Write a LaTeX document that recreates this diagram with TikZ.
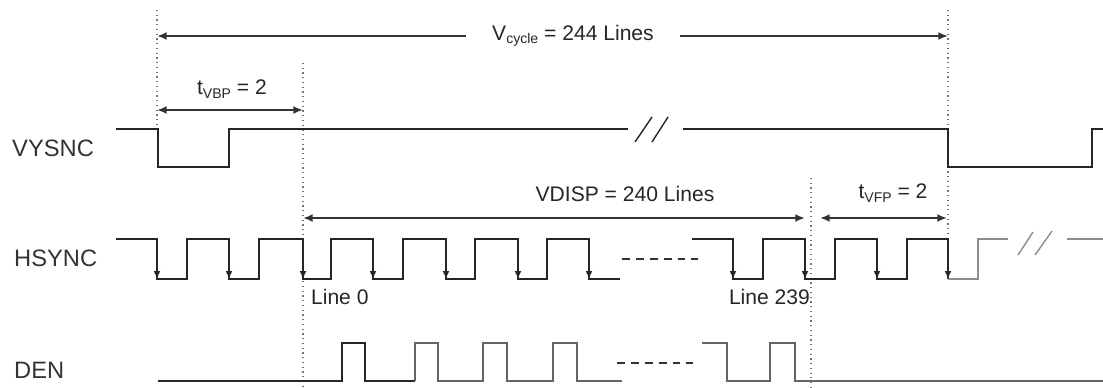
\documentclass[tikz,border=0pt]{standalone}
\usepackage{fontspec}
\setmainfont{Liberation Sans}
\usepackage{tikz}
\usetikzlibrary{arrows.meta,positioning,calc}

\begin{document}
\begin{tikzpicture}[
    x=0.02cm, y=-0.02cm,
    sig/.style={line width=1pt, black!85},
    sigg/.style={line width=1pt, black!45},
    guide/.style={dotted, black!55, line width=0.7pt},
    dim/.style={line width=1.1pt, black!80, >={Latex[length=5.5pt,width=4.5pt]}},
    fall/.style={-{Latex[length=4.5pt,width=4pt]}, line width=1pt, black!85},
    gap/.style={dash pattern=on 4.5pt off 3.4pt, line width=1pt, black!80},
    lbl/.style={font=\fontsize{13.5}{16}\selectfont, anchor=west, text=black!80},
    ann/.style={font=\fontsize{12}{14}\selectfont, text=black!85, inner sep=1pt}
]
    \useasboundingbox (0,0) rectangle (1103,387);

    % guide lines
    \coordinate (g1t) at (157,10);  \coordinate (g1b) at (157,128);
    \coordinate (g2t) at (303,63);  \coordinate (g2b) at (303,387);
    \coordinate (g3t) at (948,10);  \coordinate (g3b) at (948,239);
    \coordinate (g4t) at (811,178); \coordinate (g4b) at (811,387);
    \draw[guide] (g1t) -- (g1b);
    \draw[guide] (g2t) -- (g2b);
    \draw[guide] (g3t) -- (g3b);
    \draw[guide] (g4t) -- (g4b);

    % signal names
    \node[lbl] (vsyncl) at (6,148) {VYSNC};
    \node[lbl] (hsyncl) at (8,258) {HSYNC};
    \node[lbl] (denl) at (8,370) {DEN};

    % V cycle
    \node[ann, inner xsep=15pt] (vcyc) at (573,36)
        {V{\fontsize{8}{8}\selectfont\raisebox{-0.45ex}{cycle}} = 244 Lines};
    \coordinate (vcl) at (157,36);
    \coordinate (vcr) at (948,36);
    \draw[dim, <-] (vcl) -- (vcyc.west);
    \draw[dim, ->] (vcyc.east) -- (vcr);

    % back porch
    \coordinate (vbpl) at (157,110);
    \coordinate (vbpr) at (303,110);
    \draw[dim, <->] (vbpl) -- (vbpr);
    \node[ann] (vbp) at (232,89) {t{\fontsize{8}{8}\selectfont\raisebox{-0.45ex}{VBP}} = 2};

    % display lines
    \coordinate (vdl) at (303,218);
    \coordinate (vdr) at (805,218);
    \draw[dim, <->] (vdl) -- (vdr);
    \node[ann] (vdisp) at (625,194) {VDISP = 240 Lines};

    % front porch
    \coordinate (vfpl) at (820,218);
    \coordinate (vfpr) at (947,218);
    \draw[dim, <->] (vfpl) -- (vfpr);
    \node[ann] (vfp) at (893,193) {t{\fontsize{8}{8}\selectfont\raisebox{-0.45ex}{VFP}} = 2};

    % VSYNC
    \draw[sig] (116,129) -- (158,129) -- (158,167) -- (229,167) -- (229,129) -- (628,129);
    \draw[sig, line width=0.8pt] (635,142) -- (652,117) (652,142) -- (668,117);
    \draw[sig] (683,129) -- (948,129) -- (948,167) -- (1092,167) -- (1092,129) -- (1103,129);

    % HSYNC
    \draw[sig] (116,239) -- (157,239) -- (157,279) -- (187,279) -- (187,239) -- (229,239)
        -- (229,279) -- (259,279) -- (259,239) -- (303,239) -- (303,279) -- (331,279)
        -- (331,239) -- (373,239) -- (373,279) -- (403,279) -- (403,239) -- (446,239)
        -- (446,279) -- (475,279) -- (475,239) -- (518,239) -- (518,279) -- (547,279)
        -- (547,239) -- (589,239) -- (589,279) -- (620,279);
    \draw[gap] (622,259) -- (698,259);
    \draw[sig] (692,239) -- (733,239) -- (733,279) -- (763,279) -- (763,239) -- (805,239)
        -- (805,279) -- (835,279) -- (835,239) -- (877,239) -- (877,279) -- (907,279)
        -- (907,239) -- (948,239) -- (948,279);
    \draw[sigg] (948,279) -- (978,279) -- (978,239) -- (1008,239);
    \draw[sigg, line width=0.8pt] (1018,255) -- (1033,232) (1035,255) -- (1052,231);
    \draw[sigg] (1067,239) -- (1103,239);
    \draw[fall] (157,239) -- (157,279);
    \draw[fall] (229,239) -- (229,279);
    \draw[fall] (303,239) -- (303,279);
    \draw[fall] (373,239) -- (373,279);
    \draw[fall] (446,239) -- (446,279);
    \draw[fall] (518,239) -- (518,279);
    \draw[fall] (589,239) -- (589,279);
    \draw[fall] (733,239) -- (733,279);
    \draw[fall] (805,239) -- (805,279);
    \draw[fall] (877,239) -- (877,279);
    \draw[fall] (948,239) -- (948,279);

    \node[ann, anchor=west] (line0) at (309,297) {Line 0};
    \node[ann, anchor=east] (line239) at (812,297) {Line 239};

    % DEN
    \draw[sig] (158,381) -- (342,381) -- (342,343) -- (365,343) -- (365,381) -- (415,381);
    \draw[sigg, black!60] (415,381) -- (415,343) -- (438,343) -- (438,381) -- (483,381)
        -- (483,343) -- (507,343) -- (507,381) -- (553,381) -- (553,343) -- (577,343)
        -- (577,381) -- (622,381);
    \draw[gap] (617,363) -- (693,363);
    \draw[sigg, black!60] (702,343) -- (727,343) -- (727,381) -- (770,381) -- (770,343)
        -- (795,343) -- (795,381) -- (1103,381);
\end{tikzpicture}
\end{document}
